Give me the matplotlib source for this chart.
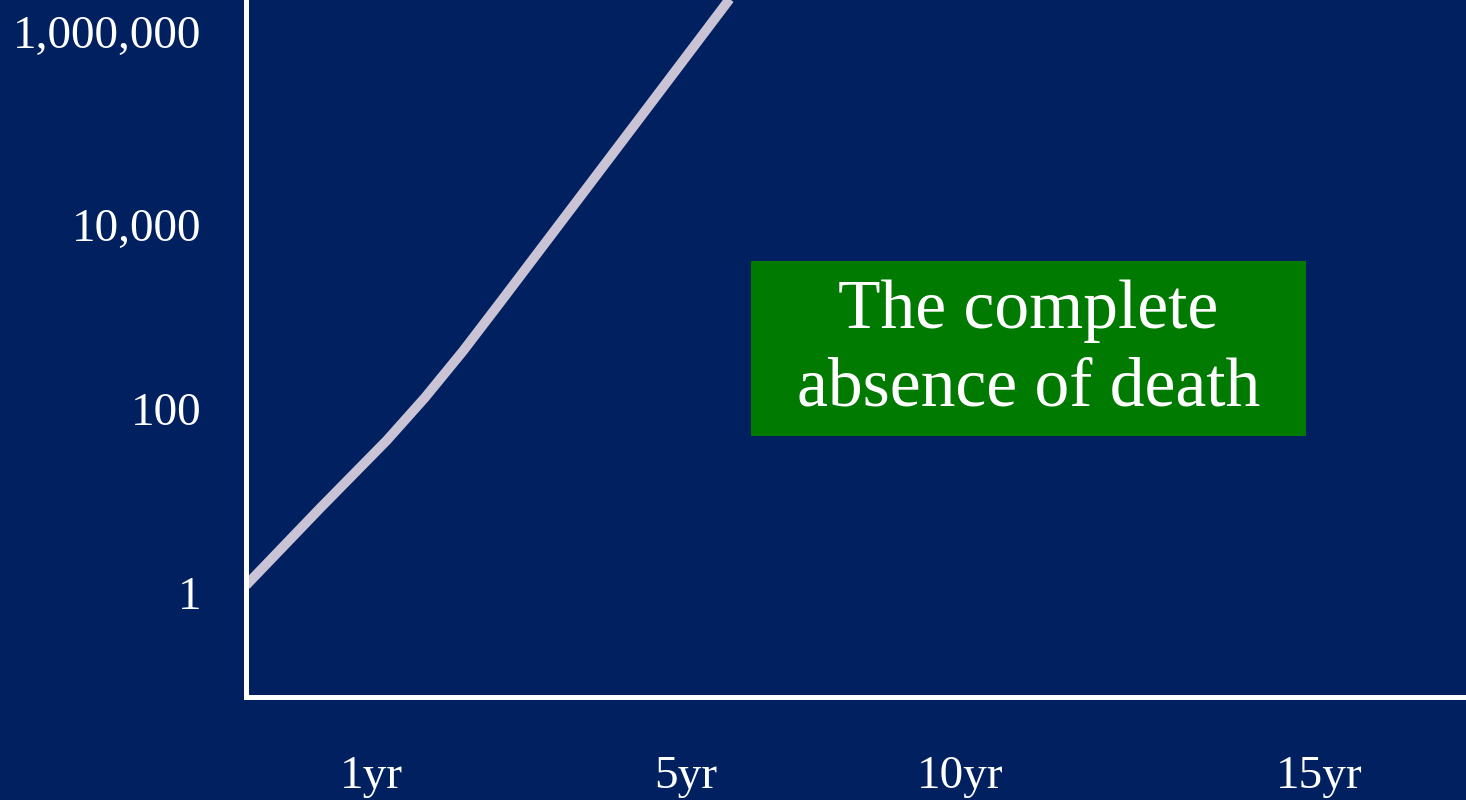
import numpy as np
import matplotlib
matplotlib.use("Agg")
import matplotlib.pyplot as plt
from matplotlib.patches import Rectangle
from matplotlib.transforms import ScaledTranslation

# positions along the time axis are given as fraction of axis width
curve_x = [0.0, 0.0607, 0.1156, 0.1467, 0.1779, 0.2098, 0.2574, 0.3066, 0.3557, 0.409]
curve_y = [1.19, 8.23, 45.4, 132, 424, 1520, 10400, 76000, 554000, 4800000]

xtick_pos = [0.103, 0.360, 0.585, 0.880]
xtick_labels = ["1yr", "5yr", "10yr", "15yr"]
ytick_vals = [1, 100, 10000, 1000000]
ytick_labels = ["1", "100", "10,000", "1,000,000"]

box_text = "The complete\nabsence of death"

bg = "#002060"
plt.rcParams["font.family"] = ["Liberation Serif", "DejaVu Serif"]

fig = plt.figure(figsize=(14.66, 8), dpi=100, facecolor=bg)
ax = fig.add_axes([0.1678, 0.12875, 0.8322, 0.87125])
ax.set_facecolor(bg)

ax.plot(curve_x, curve_y, color="#C9C3D5", lw=7, solid_capstyle="butt",
        solid_joinstyle="round")
ax.set_yscale("log")
ax.set_xlim(0, 1)
ax.set_ylim(10 ** -1.14, 10 ** 6.45)

ax.set_xticks(xtick_pos)
ax.set_xticklabels(xtick_labels)
ax.set_yticks(ytick_vals)
ax.set_yticklabels(ytick_labels)
ax.yaxis.set_minor_locator(matplotlib.ticker.NullLocator())
ax.tick_params(length=0, colors="white", labelsize=34)
ax.tick_params(axis="y", pad=32)
ax.tick_params(axis="x", pad=42)

# top label sits a bit higher in the original slide
top = ax.get_yticklabels()[-1]
top.set_transform(top.get_transform() + ScaledTranslation(0, 0.1, fig.dpi_scale_trans))

for s in ["top", "right"]:
    ax.spines[s].set_visible(False)
for s in ["left", "bottom"]:
    ax.spines[s].set_color("white")
    ax.spines[s].set_linewidth(3.6)

fig.patches.append(Rectangle((751 / 1466, 1 - 436 / 800), 555 / 1466, 175 / 800,
                             transform=fig.transFigure, facecolor="#007A00",
                             edgecolor="none", zorder=5))
fig.text((751 + 555 / 2) / 1466, 1 - 350 / 800, box_text, color="white",
         fontsize=50, ha="center", va="center", linespacing=1.28, zorder=6)

fig.savefig("out.png", dpi=100, facecolor=bg)
